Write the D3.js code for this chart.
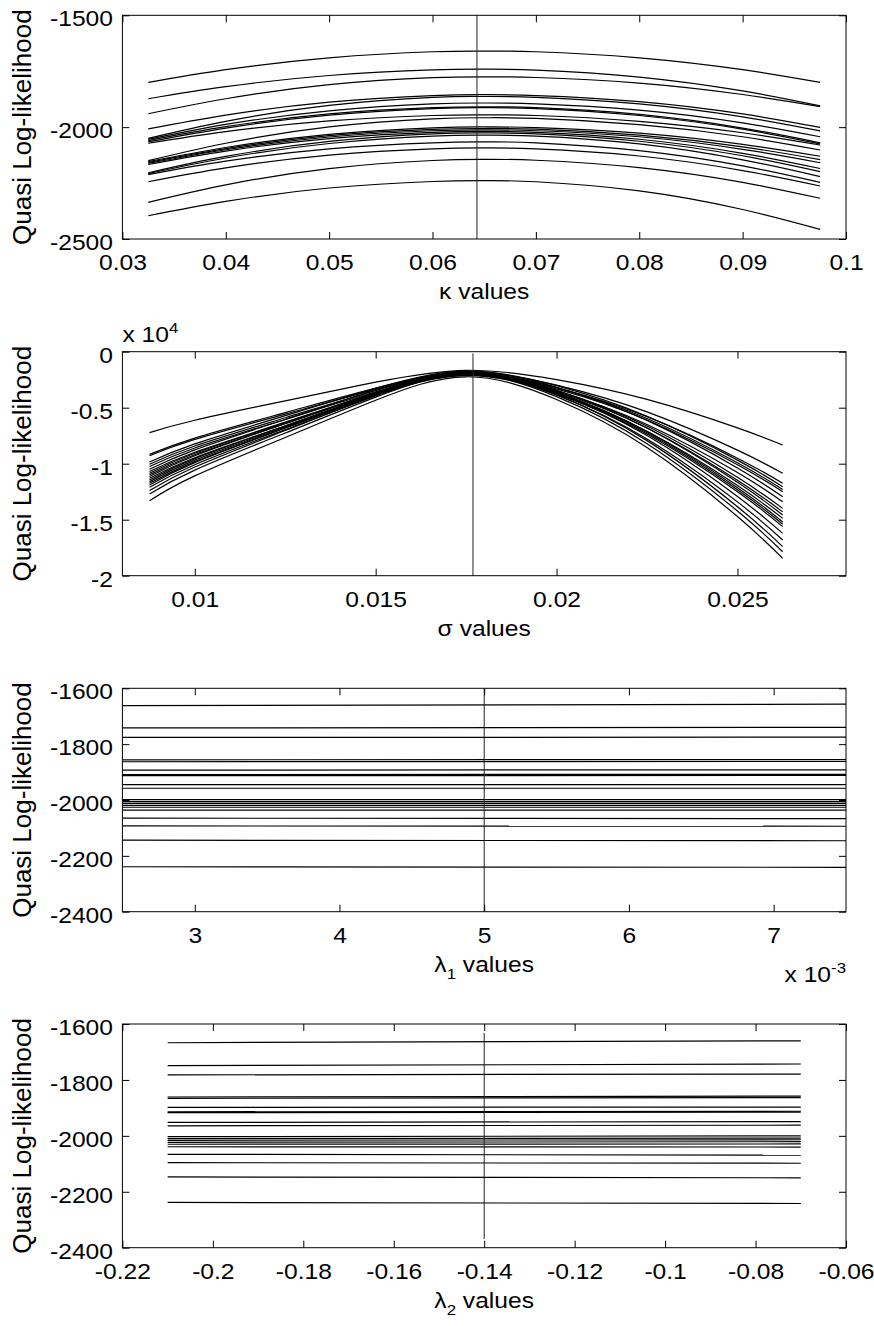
<!DOCTYPE html>
<html>
<head>
  <title>Quasi log-likelihood profiles</title>
  <style>
    body { margin: 0; background: #fff; }
    text { font-family: "Liberation Sans", Arial, sans-serif; fill: #000; }
  </style>
</head>
<body>
  <script src="https://d3js.org/d3.v7.min.js"></script>
  <script>
    // kappa panel: curves sampled at these kappa values
    const kappaGrid = [0.0325, 0.04, 0.05, 0.06, 0.065, 0.07, 0.08, 0.09, 0.0975];
    const kappaCurves = [
      [-1800, -1743, -1690, -1663, -1660, -1663, -1690, -1743, -1800],
      [-1873, -1819, -1769, -1744, -1741, -1745, -1776, -1838, -1905],
      [-1940, -1873, -1810, -1779, -1775, -1778, -1803, -1854, -1908],
      [-2008, -1946, -1888, -1859, -1855, -1859, -1886, -1941, -2001],
      [-2050, -1974, -1903, -1867, -1863, -1867, -1896, -1954, -2017],
      [-2055, -1988, -1927, -1896, -1892, -1896, -1924, -1981, -2043],
      [-2060, -1998, -1941, -1913, -1909, -1913, -1943, -2004, -2070],
      [-2066, -2004, -1946, -1917, -1913, -1917, -1948, -2009, -2075],
      [-2072, -2020, -1972, -1948, -1945, -1948, -1974, -2025, -2080],
      [-2150, -2072, -1999, -1963, -1958, -1961, -1989, -2043, -2102],
      [-2154, -2091, -2032, -2003, -1999, -2002, -2027, -2077, -2130],
      [-2158, -2096, -2038, -2010, -2006, -2009, -2036, -2088, -2145],
      [-2162, -2101, -2044, -2016, -2012, -2016, -2043, -2099, -2159],
      [-2167, -2107, -2051, -2023, -2019, -2023, -2054, -2117, -2185],
      [-2204, -2131, -2064, -2030, -2026, -2030, -2063, -2128, -2199],
      [-2208, -2138, -2073, -2040, -2036, -2040, -2075, -2146, -2221],
      [-2212, -2152, -2097, -2070, -2066, -2070, -2105, -2173, -2247],
      [-2244, -2182, -2125, -2097, -2093, -2097, -2129, -2194, -2263],
      [-2336, -2258, -2185, -2149, -2144, -2148, -2181, -2247, -2318],
      [-2396, -2332, -2272, -2243, -2239, -2244, -2285, -2368, -2457]
    ];
    const kappaTicks = [0.03, 0.04, 0.05, 0.06, 0.07, 0.08, 0.09, 0.1];
    const kappaYTicks = [-2500, -2000, -1500];
    const kappaMark = 0.0643;

    // sigma panel
    const sigmaGrid = [0.00875, 0.01, 0.0125, 0.015, 0.0175, 0.02, 0.0225, 0.025, 0.02625];
    const sigmaCurves = [
      [-7230, -6120, -4390, -2720, -1660, -2490, -4260, -6800, -8330],
      [-9170, -7710, -5440, -3250, -1855, -2980, -5370, -8790, -10860],
      [-9290, -7830, -5570, -3380, -1999, -3220, -5800, -9510, -11750],
      [-9850, -8230, -5710, -3280, -1741, -3030, -5760, -9680, -12050],
      [-10050, -8420, -5900, -3460, -1909, -3210, -5960, -9910, -12300],
      [-10250, -8600, -6050, -3580, -2012, -3320, -6100, -10090, -12500],
      [-10500, -8760, -6050, -3430, -1775, -3170, -6130, -10380, -12950],
      [-10700, -8980, -6310, -3730, -2093, -3510, -6500, -10790, -13390],
      [-10850, -9070, -6310, -3640, -1945, -3450, -6640, -11220, -13990],
      [-11000, -9200, -6420, -3730, -2019, -3550, -6810, -11480, -14300],
      [-11150, -9290, -6410, -3630, -1863, -3450, -6820, -11660, -14580],
      [-11300, -9470, -6630, -3880, -2144, -3740, -7110, -11950, -14880],
      [-11450, -9550, -6610, -3760, -1958, -3610, -7120, -12150, -15200],
      [-11600, -9680, -6710, -3830, -2006, -3680, -7230, -12320, -15400],
      [-11750, -9810, -6810, -3910, -2066, -3760, -7350, -12500, -15620],
      [-11900, -9900, -6810, -3810, -1913, -3700, -7490, -12930, -16220],
      [-12100, -10090, -6960, -3940, -2026, -3870, -7790, -13410, -16810],
      [-12400, -10300, -7040, -3890, -1892, -3830, -7940, -13840, -17410],
      [-12700, -10570, -7260, -4060, -2036, -4010, -8210, -14220, -17860],
      [-13300, -11090, -7660, -4340, -2239, -4270, -8560, -14720, -18450]
    ];
    const sigmaTicks = [0.01, 0.015, 0.02, 0.025];
    const sigmaYTicks = [-20000, -15000, -10000, -5000, 0];
    const sigmaMark = 0.01769;

    // lambda1 panel: each level given at left and right end
    const lambda1Ends = [0.0025, 0.0075];
    const lambda1Levels = [
      [-1662, -1657], [-1742, -1740], [-1776, -1775], [-1856, -1855], [-1863, -1862],
      [-1893, -1892], [-1909, -1908], [-1913, -1912], [-1945, -1945], [-1958, -1958],
      [-1999, -1999], [-2006, -2006], [-2012, -2012], [-2019, -2019], [-2026, -2026],
      [-2036, -2036], [-2065, -2067], [-2093, -2094], [-2144, -2146], [-2239, -2241]
    ];
    const lambda1Ticks = [0.003, 0.004, 0.005, 0.006, 0.007];
    const lambda1Mark = 0.005;

    // lambda2 panel
    const lambda2Ends = [-0.21, -0.07];
    const lambda2Levels = [
      [-1667, -1660], [-1749, -1743], [-1782, -1779], [-1861, -1858], [-1866, -1863],
      [-1898, -1897], [-1914, -1912], [-1917, -1915], [-1952, -1949], [-1964, -1962],
      [-2003, -2000], [-2010, -2008], [-2016, -2014], [-2023, -2021], [-2030, -2029],
      [-2039, -2040], [-2066, -2069], [-2096, -2098], [-2147, -2150], [-2238, -2242]
    ];
    const lambda2Ticks = [-0.22, -0.2, -0.18, -0.16, -0.14, -0.12, -0.1, -0.08, -0.06];
    const lambda2Mark = -0.14;
    const lambda2MarkSpan = [-2369, -1632];

    const llTicks = [-2400, -2200, -2000, -1800, -1600];

    const width = 874;
    const height = 1326;
    const left = 122.4;
    const right = 846;
    const stretch = 1.12;

    const svg = d3.select('body')
      .append('svg')
      .attr('width', width)
      .attr('height', height);

    const panels = [
      {
        top: 15.3, bottom: 239,
        xDomain: [0.03, 0.1], yDomain: [-2500, -1500],
        xTicks: kappaTicks, yTicks: kappaYTicks,
        xFmt: d => String(+d.toFixed(3)), yFmt: d => String(d),
        series: kappaCurves.map(c => c.map((v, i) => [kappaGrid[i], v])),
        mark: [kappaMark, -2500, -1500],
        title: [['\u03ba values']]
      },
      {
        top: 351.7, bottom: 575.7,
        xDomain: [0.008, 0.028], yDomain: [-20000, 0],
        xTicks: sigmaTicks, yTicks: sigmaYTicks,
        xFmt: d => String(+d.toFixed(3)), yFmt: d => String(d / 1e4),
        series: sigmaCurves.map(c => c.map((v, i) => [sigmaGrid[i], v])),
        mark: [sigmaMark, -20000, -150],
        title: [['\u03c3 values']],
        topExp: '4'
      },
      {
        top: 688.3, bottom: 911.7,
        xDomain: [0.0025, 0.0075], yDomain: [-2400, -1600],
        xTicks: lambda1Ticks, yTicks: llTicks,
        xFmt: d => String(Math.round(d * 1000)), yFmt: d => String(d),
        series: lambda1Levels.map(l => [[lambda1Ends[0], l[0]], [lambda1Ends[1], l[1]]]),
        mark: [lambda1Mark, -2400, -1600],
        title: [['\u03bb'], ['1', 'sub'], [' values']],
        bottomExp: '-3'
      },
      {
        top: 1024, bottom: 1247.7,
        xDomain: [-0.22, -0.06], yDomain: [-2400, -1600],
        xTicks: lambda2Ticks, yTicks: llTicks,
        xFmt: d => String(+d.toFixed(2)), yFmt: d => String(d),
        series: lambda2Levels.map(l => [[lambda2Ends[0], l[0]], [lambda2Ends[1], l[1]]]),
        mark: [lambda2Mark, lambda2MarkSpan[0], lambda2MarkSpan[1]],
        title: [['\u03bb'], ['2', 'sub'], [' values']]
      }
    ];

    panels.forEach(function(p) {
      const x = d3.scaleLinear().domain(p.xDomain).range([left, right]);
      const y = d3.scaleLinear().domain(p.yDomain).range([p.bottom, p.top]);
      const g = svg.append('g');

      // curves
      const line = d3.line()
        .x(d => x(d[0]))
        .y(d => y(d[1]))
        .curve(d3.curveNatural);

      g.selectAll('path.curve')
        .data(p.series)
        .enter()
        .append('path')
        .attr('class', 'curve')
        .attr('d', line)
        .attr('fill', 'none')
        .attr('stroke', '#000')
        .attr('stroke-width', 1.2);

      // vertical marker at the estimate
      g.append('line')
        .attr('x1', x(p.mark[0])).attr('x2', x(p.mark[0]))
        .attr('y1', y(p.mark[1])).attr('y2', y(p.mark[2]))
        .attr('stroke', '#222')
        .attr('stroke-width', 1);

      // axes, ticks pointing inward
      const bottomAxis = g.append('g')
        .attr('transform', `translate(0,${p.bottom})`)
        .call(d3.axisBottom(x).tickValues(p.xTicks).tickFormat(p.xFmt)
          .tickSizeInner(-7).tickSizeOuter(0).tickPadding(15.4));
      const leftAxis = g.append('g')
        .attr('transform', `translate(${left},0)`)
        .call(d3.axisLeft(y).tickValues(p.yTicks).tickFormat(p.yFmt)
          .tickSizeInner(-7).tickSizeOuter(0).tickPadding(9.4));
      const topAxis = g.append('g')
        .attr('transform', `translate(0,${p.top})`)
        .call(d3.axisTop(x).tickValues(p.xTicks).tickFormat('')
          .tickSizeInner(-7).tickSizeOuter(0));
      const rightAxis = g.append('g')
        .attr('transform', `translate(${right},0)`)
        .call(d3.axisRight(y).tickValues(p.yTicks).tickFormat('')
          .tickSizeInner(-7).tickSizeOuter(0));

      [bottomAxis, leftAxis, topAxis, rightAxis].forEach(function(a) {
        a.select('.domain').remove();
        a.selectAll('.tick line').attr('stroke', '#000');
        a.attr('font-size', 22).attr('font-family', '"Liberation Sans", Arial, sans-serif');
      });
      bottomAxis.selectAll('.tick text')
        .attr('transform', `scale(${stretch},1)`);
      leftAxis.selectAll('.tick text')
        .attr('x', -9.4 / stretch)
        .attr('dy', '0.47em')
        .attr('transform', `scale(${stretch},1)`);

      // frame
      g.append('rect')
        .attr('x', left).attr('y', p.top)
        .attr('width', right - left).attr('height', p.bottom - p.top)
        .attr('fill', 'none')
        .attr('stroke', '#000')
        .attr('stroke-width', 1);

      // y label
      g.append('text')
        .attr('transform', `translate(31,${(p.top + p.bottom) / 2}) rotate(-90)`)
        .attr('text-anchor', 'middle')
        .attr('font-size', 26)
        .text('Quasi Log-likelihood');

      // x label
      const t = g.append('text')
        .attr('transform', `translate(${(left + right) / 2},${p.bottom + 60}) scale(${stretch},1)`)
        .attr('text-anchor', 'middle')
        .attr('font-size', 22);
      p.title.forEach(function(part, i) {
        const ts = t.append('tspan').text(part[0]);
        if (part[1] === 'sub') {
          ts.attr('font-size', 15).attr('dy', 7);
        } else if (i > 0 && p.title[i - 1][1] === 'sub') {
          ts.attr('dy', -7);
        }
      });

      // axis exponent labels
      if (p.topExp) {
        const e = g.append('text')
          .attr('transform', `translate(${left},${p.top - 10}) scale(${stretch},1)`)
          .attr('font-size', 22);
        e.append('tspan').text('x 10');
        e.append('tspan').attr('font-size', 15).attr('dy', -9).text(p.topExp);
      }
      if (p.bottomExp) {
        const e = g.append('text')
          .attr('transform', `translate(${right},${p.bottom + 70}) scale(${stretch},1)`)
          .attr('text-anchor', 'end')
          .attr('font-size', 22);
        e.append('tspan').text('x 10');
        e.append('tspan').attr('font-size', 15).attr('dy', -9).text(p.bottomExp);
      }
    });
  </script>
</body>
</html>
